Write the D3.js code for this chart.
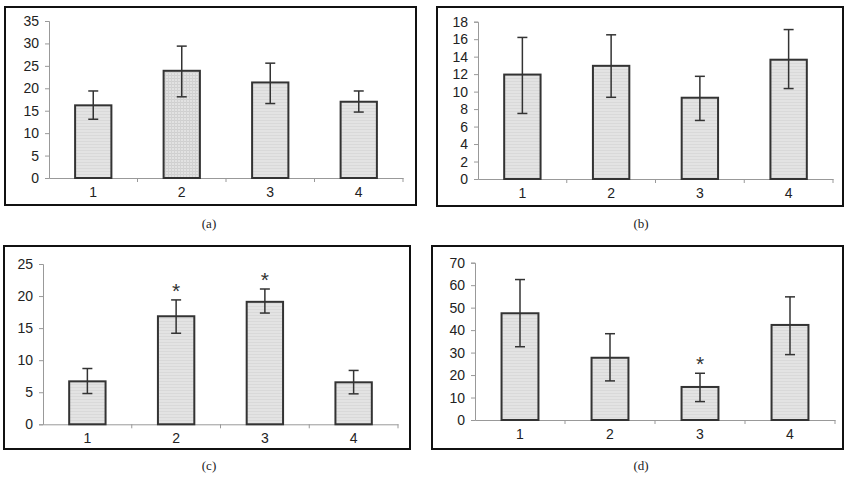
<!DOCTYPE html>
<html>
  <head>
    <meta charset="utf-8">
    <script src="https://d3js.org/d3.v7.min.js"></script>
    <style>
      body { margin: 0; background: #fff; }
    </style>
  </head>
  <body>
  <div id="svgcontainer"></div>
  <script>
    var width = 851, height = 480;
    var categories = ['1', '2', '3', '4'];

    // panel (a)
    var valuesA = [16.2, 23.9, 21.3, 17.0];
    var upperA = [19.4, 29.4, 25.6, 19.4];
    var lowerA = [13.1, 18.1, 16.6, 14.7];
    var ticksA = [0, 5, 10, 15, 20, 25, 30, 35];
    var starsA = ['', '', '', ''];
    // panel (b)
    var valuesB = [11.95, 12.95, 9.3, 13.65];
    var upperB = [16.2, 16.5, 11.75, 17.1];
    var lowerB = [7.5, 9.35, 6.7, 10.35];
    var ticksB = [0, 2, 4, 6, 8, 10, 12, 14, 16, 18];
    var starsB = ['', '', '', ''];
    // panel (c)
    var valuesC = [6.7, 16.85, 19.1, 6.55];
    var upperC = [8.7, 19.4, 21.1, 8.4];
    var lowerC = [4.8, 14.2, 17.35, 4.75];
    var ticksC = [0, 5, 10, 15, 20, 25];
    var starsC = ['', '*', '*', ''];
    // panel (d)
    var valuesD = [47.5, 27.7, 14.7, 42.3];
    var upperD = [62.5, 38.4, 20.8, 54.8];
    var lowerD = [32.6, 17.4, 8.2, 29.1];
    var ticksD = [0, 10, 20, 30, 40, 50, 60, 70];
    var starsD = ['', '', '*', ''];

    var captions = ['(a)', '(b)', '(c)', '(d)'];

    var svg = d3.select('#svgcontainer')
      .append('svg')
      .attr('width', width)
      .attr('height', height);

    // faint fill textures like the scanned original
    var defs = svg.append('defs');
    var hl = defs.append('pattern').attr('id', 'hlines')
      .attr('patternUnits', 'userSpaceOnUse').attr('width', 4).attr('height', 3);
    hl.append('rect').attr('width', 4).attr('height', 3).attr('fill', '#e3e3e3');
    hl.append('rect').attr('width', 4).attr('height', 1).attr('fill', '#d9d9d9');
    var gr = defs.append('pattern').attr('id', 'grid')
      .attr('patternUnits', 'userSpaceOnUse').attr('width', 3).attr('height', 3);
    gr.append('rect').attr('width', 3).attr('height', 3).attr('fill', '#e2e2e2');
    gr.append('rect').attr('width', 3).attr('height', 1).attr('fill', '#cfcfcf');
    gr.append('rect').attr('width', 1).attr('height', 3).attr('fill', '#d2d2d2');

    var panels = [
      {box: [5, 7, 411, 198], plot: [49, 403, 178, 21], max: 35, vals: valuesA, up: upperA, lo: lowerA, ticks: ticksA, stars: starsA,
       fills: ['url(#hlines)', 'url(#grid)', 'url(#hlines)', 'url(#hlines)'], cap: [209, 228]},
      {box: [437, 7, 406, 199], plot: [478, 833, 179, 21.7], max: 18, vals: valuesB, up: upperB, lo: lowerB, ticks: ticksB, stars: starsB,
       fills: ['url(#hlines)', 'url(#hlines)', 'url(#hlines)', 'url(#hlines)'], cap: [641, 228]},
      {box: [4, 246, 406, 203], plot: [43, 398, 424.3, 264], max: 25, vals: valuesC, up: upperC, lo: lowerC, ticks: ticksC, stars: starsC,
       fills: ['url(#hlines)', 'url(#hlines)', 'url(#hlines)', 'url(#hlines)'], cap: [209, 470]},
      {box: [432, 246, 411, 203], plot: [475, 835, 420, 262.7], max: 70, vals: valuesD, up: upperD, lo: lowerD, ticks: ticksD, stars: starsD,
       fills: ['url(#hlines)', 'url(#hlines)', 'url(#hlines)', 'url(#hlines)'], cap: [641, 470]}
    ];

    panels.forEach(function(p, pi) {
      var g = svg.append('g');
      g.append('rect')
        .attr('x', p.box[0]).attr('y', p.box[1])
        .attr('width', p.box[2]).attr('height', p.box[3])
        .attr('fill', '#fff').attr('stroke', '#111').attr('stroke-width', 2);

      var x = d3.scaleBand().domain(categories).range([p.plot[0], p.plot[1]]).paddingInner(0).paddingOuter(0);
      var y = d3.scaleLinear().domain([0, p.max]).range([p.plot[2], p.plot[3]]);
      var bw = x.bandwidth() * 0.41;

      // y axis
      var ya = g.append('g').attr('transform', 'translate(' + p.plot[0] + ',0)')
        .call(d3.axisLeft(y).tickValues(p.ticks).tickSize(4).tickPadding(6));
      ya.select('.domain').attr('stroke', '#999');
      ya.selectAll('.tick line').attr('stroke', '#999');
      ya.selectAll('.tick text').attr('font-family', 'Liberation Sans, Arial, sans-serif')
        .attr('font-size', 14).attr('fill', '#222');

      // x axis: ticks on category boundaries
      var xa = g.append('g').attr('transform', 'translate(0,' + p.plot[2] + ')')
        .call(d3.axisBottom(x).tickSize(0).tickPadding(9));
      xa.select('.domain').attr('stroke', '#999');
      xa.selectAll('.tick text').attr('font-family', 'Liberation Sans, Arial, sans-serif')
        .attr('font-size', 14).attr('fill', '#222');
      g.selectAll('.xb').data(categories.slice(1).concat(['end'])).enter().append('line')
        .attr('x1', function(d) { return d === 'end' ? p.plot[1] : x(d); })
        .attr('x2', function(d) { return d === 'end' ? p.plot[1] : x(d); })
        .attr('y1', p.plot[2]).attr('y2', p.plot[2] + 4)
        .attr('stroke', '#999');

      var data = categories.map(function(c, i) {
        return {c: c, v: p.vals[i], up: p.up[i], lo: p.lo[i], s: p.stars[i], f: p.fills[i]};
      });

      g.selectAll('.bar').data(data).enter().append('rect')
        .attr('x', function(d) { return x(d.c) + x.bandwidth() / 2 - bw / 2; })
        .attr('y', function(d) { return y(d.v); })
        .attr('width', bw)
        .attr('height', function(d) { return y(0) - y(d.v); })
        .attr('fill', function(d) { return d.f; })
        .attr('stroke', '#333').attr('stroke-width', 2);

      var cx = function(d) { return x(d.c) + x.bandwidth() / 2; };
      g.selectAll('.err').data(data).enter().append('line')
        .attr('x1', cx).attr('x2', cx)
        .attr('y1', function(d) { return y(d.up); })
        .attr('y2', function(d) { return y(d.lo); })
        .attr('stroke', '#333').attr('stroke-width', 1.5);
      ['up', 'lo'].forEach(function(k) {
        g.selectAll('.cap' + k).data(data).enter().append('line')
          .attr('x1', function(d) { return cx(d) - 5; })
          .attr('x2', function(d) { return cx(d) + 5; })
          .attr('y1', function(d) { return y(d[k]); })
          .attr('y2', function(d) { return y(d[k]); })
          .attr('stroke', '#333').attr('stroke-width', 1.5);
      });

      g.selectAll('.star').data(data.filter(function(d) { return d.s; })).enter().append('text')
        .attr('x', cx)
        .attr('y', function(d) { return y(d.up) - 2; })
        .attr('text-anchor', 'middle')
        .attr('font-family', 'Liberation Sans, Arial, sans-serif')
        .attr('font-size', 21).attr('fill', '#333')
        .text(function(d) { return d.s; });

      svg.append('text')
        .attr('x', p.cap[0]).attr('y', p.cap[1])
        .attr('text-anchor', 'middle')
        .attr('font-family', 'Liberation Serif, Times New Roman, serif')
        .attr('font-size', 13).attr('fill', '#222')
        .text(captions[pi]);
    });
  </script>
  </body>
</html>
